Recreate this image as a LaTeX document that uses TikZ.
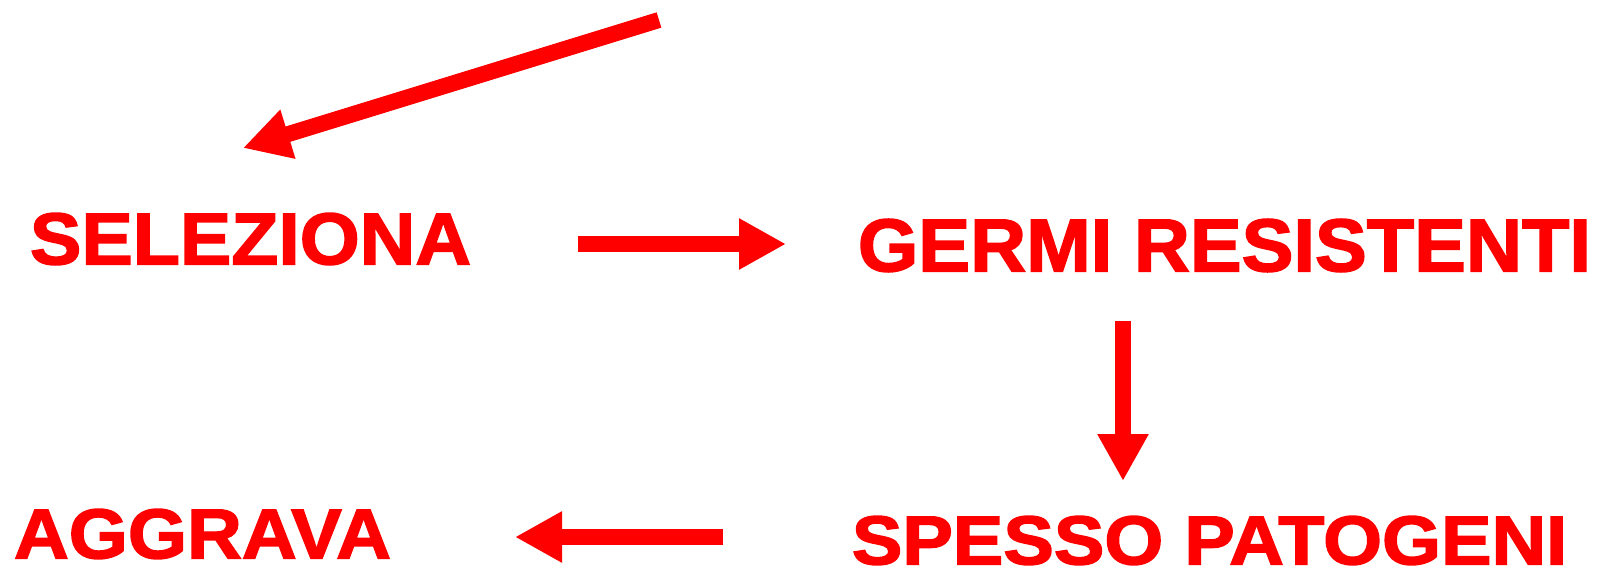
\documentclass[tikz,border=0pt]{standalone}
\usepackage{fontspec}
\setmainfont{Liberation Sans}[BoldFeatures={FakeBold=2}]
\usepackage{graphicx}
\usetikzlibrary{arrows.meta}
\definecolor{rd}{RGB}{255,0,0}
\tikzset{
  lbl/.style={inner sep=0pt, outer sep=0pt, text=rd, font=\bfseries},
  arr/.style={draw=rd, line width=16pt, line cap=butt,
    -{Triangle[width=48pt,length=47pt]}},
}
\begin{document}
\begin{tikzpicture}[x=1pt,y=-1pt]
\useasboundingbox (0,0) rectangle (1599,570);
\node[lbl] (sel) at (250.5,239) {\resizebox*{441pt}{52pt}{SELEZIONA}};
\node[lbl] (germ) at (1224.5,245.5) {\resizebox*{733pt}{53pt}{GERMI RESISTENTI}};
\node[lbl] (spes) at (1209.5,540.5) {\resizebox*{715pt}{49pt}{SPESSO PATOGENI}};
\node[lbl] (aggr) at (202.5,534) {\resizebox*{377pt}{50pt}{AGGRAVA}};
\coordinate (d0) at (659,20);
\coordinate (d1) at (243,148);
\coordinate (r0) at (578,244);
\coordinate (r1) at (786,244);
\coordinate (v0) at (1123,321);
\coordinate (v1) at (1123,481);
\coordinate (l0) at (723,537);
\coordinate (l1) at (515,537);
\draw[arr] (d0) -- (d1);
\draw[arr] (r0) -- (r1);
\draw[arr] (v0) -- (v1);
\draw[arr] (l0) -- (l1);
\end{tikzpicture}
\end{document}
